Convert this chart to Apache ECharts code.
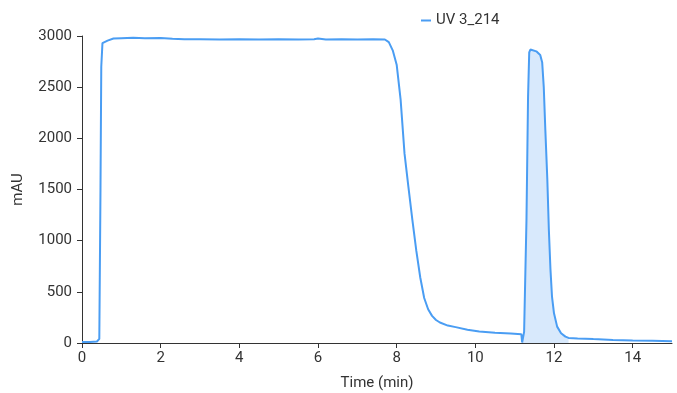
<!DOCTYPE html>
<html>
<head>
<meta charset="utf-8">
<script src="https://cdn.jsdelivr.net/npm/echarts@6/dist/echarts.min.js"></script>
<style>
  html, body { margin: 0; padding: 0; background: #fff; }
  #chart { width: 677px; height: 393px; }
</style>
</head>
<body>
<div id="chart"></div>
<script>
// retention time (min) and absorbance (mAU)
const times = [
  0, 0.2, 0.38, 0.44, 0.47, 0.49, 0.52, 0.56, 0.65, 0.8, 1.0, 1.3, 1.6, 2.0,
  2.3, 2.6, 3.0, 3.5, 4.0, 4.5, 5.0, 5.5, 5.9, 6.0, 6.2, 6.6, 7.0, 7.4, 7.7,
  7.8, 7.9, 8.0, 8.1, 8.2, 8.3, 8.4, 8.5, 8.6, 8.7, 8.8, 8.9, 9.0, 9.1, 9.3,
  9.5, 9.8, 10.1, 10.5, 10.9, 11.17, 11.19, 11.24, 11.3, 11.34, 11.37, 11.40,
  11.45, 11.55, 11.65, 11.70, 11.74, 11.78, 11.83, 11.87, 11.91, 11.95, 12.0,
  12.08, 12.18, 12.29, 12.37, 12.6, 13.0, 13.5, 14.0, 14.5, 15.0
];
const mAU = [
  10, 10, 15, 40, 1500, 2700, 2930, 2940, 2955, 2975, 2978, 2982, 2978, 2980,
  2972, 2968, 2968, 2966, 2968, 2965, 2968, 2966, 2968, 2975, 2966, 2968, 2966, 2968, 2966,
  2940, 2860, 2720, 2380, 1850, 1520, 1200, 900, 640, 440, 330, 265, 225, 200, 170,
  155, 130, 112, 100, 92, 85, 5, 110, 1200, 2400, 2840, 2868,
  2872, 2850, 2815, 2740, 2500, 2080, 1600, 1100, 720, 450, 290,
  160, 95, 62, 50, 45, 38, 30, 25, 22, 18
];
const peakStart = 11.19;
const peakEnd = 12.37;
const xTicks = [0, 2, 4, 6, 8, 10, 12, 14];
const seriesName = "UV 3_214";

const trace = times.map((t, i) => [t, mAU[i]]);
const peak = trace.filter((p) => p[0] >= peakStart && p[0] <= peakEnd);

const chart = echarts.init(document.getElementById("chart"));
const textColor = "#333";
const font = "Roboto";
const lineColor = "#4a9df3";

chart.setOption({
  animation: false,
  textStyle: { fontFamily: font },
  grid: { left: 82, right: 5, top: 36, bottom: 50, outerBoundsMode: "none" },
  legend: {
    data: [seriesName],
    left: 416,
    top: 8,
    icon: "rect",
    itemWidth: 10,
    itemHeight: 2,
    textStyle: { color: textColor, fontSize: 15, fontFamily: font }
  },
  xAxis: {
    type: "value",
    min: 0,
    max: 15,
    interval: 2,
    name: "Time (min)",
    nameLocation: "middle",
    nameGap: 33,
    nameTextStyle: { color: textColor, fontSize: 15 },
    splitLine: { show: false },
    axisLine: { show: true, lineStyle: { color: "#333" } },
    axisTick: { show: true, length: 5, customValues: xTicks },
    axisLabel: { color: textColor, fontSize: 15, margin: 8, customValues: xTicks }
  },
  yAxis: {
    type: "value",
    min: 0,
    max: 3000,
    interval: 500,
    name: "mAU",
    nameLocation: "middle",
    nameGap: 56,
    nameTextStyle: { color: textColor, fontSize: 15 },
    splitLine: { show: false },
    axisLine: { show: true, lineStyle: { color: "#333" } },
    axisTick: { show: true, length: 5 },
    axisLabel: {
      color: textColor,
      fontSize: 15,
      margin: 10,
      formatter: (v) => String(v)
    }
  },
  series: [
    {
      name: "peak",
      type: "line",
      data: peak,
      showSymbol: false,
      lineStyle: { width: 0 },
      areaStyle: { color: "#d8e9fc", opacity: 1 },
      z: 1,
      silent: true
    },
    {
      name: seriesName,
      type: "line",
      data: trace,
      showSymbol: false,
      color: lineColor,
      lineStyle: { width: 2, color: lineColor },
      z: 2
    }
  ]
});
</script>
</body>
</html>
